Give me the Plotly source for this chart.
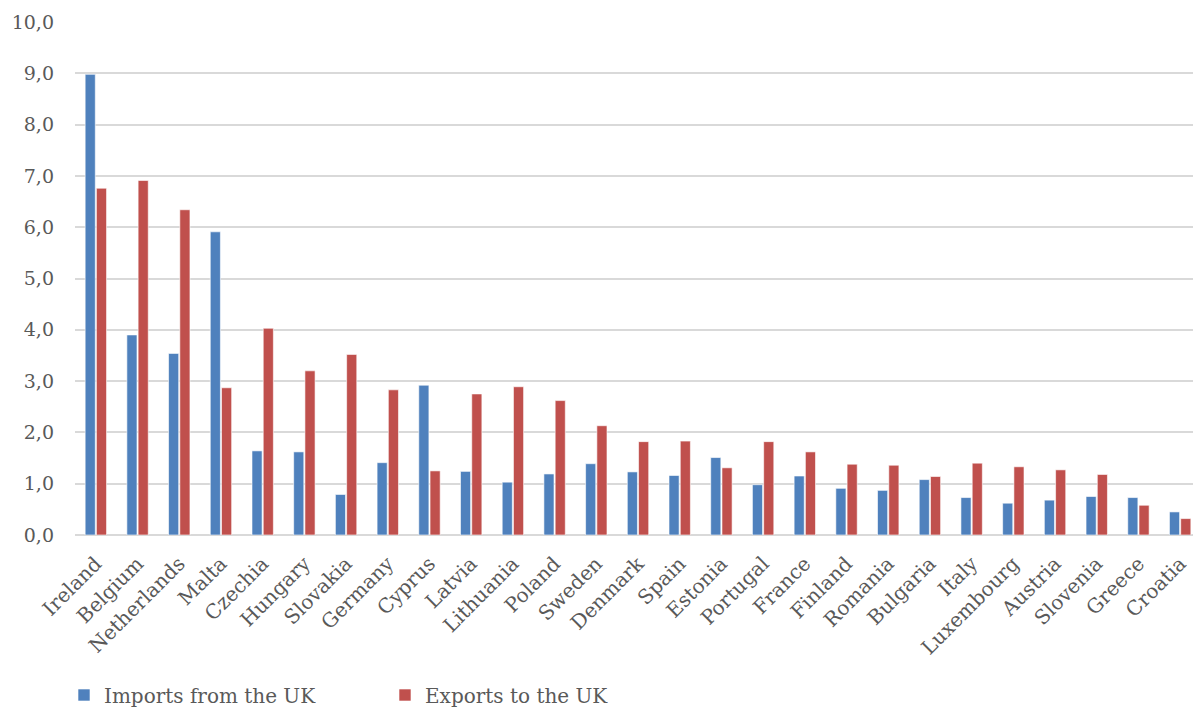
import plotly.graph_objects as go

countries = ["Ireland", "Belgium", "Netherlands", "Malta", "Czechia", "Hungary", "Slovakia",
             "Germany", "Cyprus", "Latvia", "Lithuania", "Poland", "Sweden", "Denmark", "Spain",
             "Estonia", "Portugal", "France", "Finland", "Romania", "Bulgaria", "Italy",
             "Luxembourg", "Austria", "Slovenia", "Greece", "Croatia"]
imports_from_uk = [8.98, 3.90, 3.54, 5.91, 1.64, 1.62, 0.79, 1.41, 2.92, 1.24, 1.03, 1.19, 1.39,
                   1.23, 1.16, 1.51, 0.98, 1.15, 0.91, 0.87, 1.08, 0.73, 0.62, 0.68, 0.75, 0.73, 0.45]
exports_to_uk = [6.76, 6.91, 6.34, 2.87, 4.03, 3.20, 3.52, 2.83, 1.25, 2.75, 2.89, 2.62, 2.13,
                 1.82, 1.83, 1.31, 1.82, 1.62, 1.38, 1.36, 1.14, 1.40, 1.33, 1.27, 1.18, 0.58, 0.32]
y_ticks = [0, 1, 2, 3, 4, 5, 6, 7, 8, 9, 10]

FONT = "DejaVu Serif"
TXT = "#595959"
W, H = 1193, 699  # page body has an 8px margin

fig = go.Figure()
fig.add_trace(go.Bar(name="Imports from the UK", x=countries, y=imports_from_uk, legend="legend",
                     marker=dict(color="#4f81bd", line=dict(color="white", width=0.6))))
fig.add_trace(go.Bar(name="Exports to the UK", x=countries, y=exports_to_uk, legend="legend2",
                     marker=dict(color="#c0504d", line=dict(color="white", width=0.6))))

leg_common = dict(orientation="h", xanchor="left", xref="container", yref="container",
                  y=1 - 687 / H, yanchor="middle", itemwidth=30,
                  font=dict(family=FONT, size=20, color=TXT), bgcolor="rgba(0,0,0,0)")

fig.update_layout(
    width=W, height=H,
    margin=dict(l=67, r=0, t=14, b=172, autoexpand=False),
    paper_bgcolor="white", plot_bgcolor="white",
    barmode="group", bargap=0.46, bargroupgap=0.1,
    separators=",.",
    font=dict(family=FONT, color=TXT, size=19),
    showlegend=True,
    legend=dict(x=56 / W, **leg_common),
    legend2=dict(x=377 / W, **leg_common),
)
fig.update_yaxes(range=[0, 10], tickvals=y_ticks, tickformat=".1f", automargin=False,
                 showgrid=True, gridcolor="#d9d9d9", gridwidth=1.5,
                 zeroline=True, zerolinecolor="#d9d9d9", zerolinewidth=1.5,
                 showline=False, ticks="", ticklen=0, ticklabelstandoff=20,
                 tickfont=dict(family=FONT, size=19, color=TXT))
fig.update_xaxes(tickangle=-45, showgrid=False, showline=False, ticks="", automargin=False,
                 ticklabelstandoff=12,
                 tickfont=dict(family=FONT, size=20, color=TXT))

fig.write_html("out.html")
